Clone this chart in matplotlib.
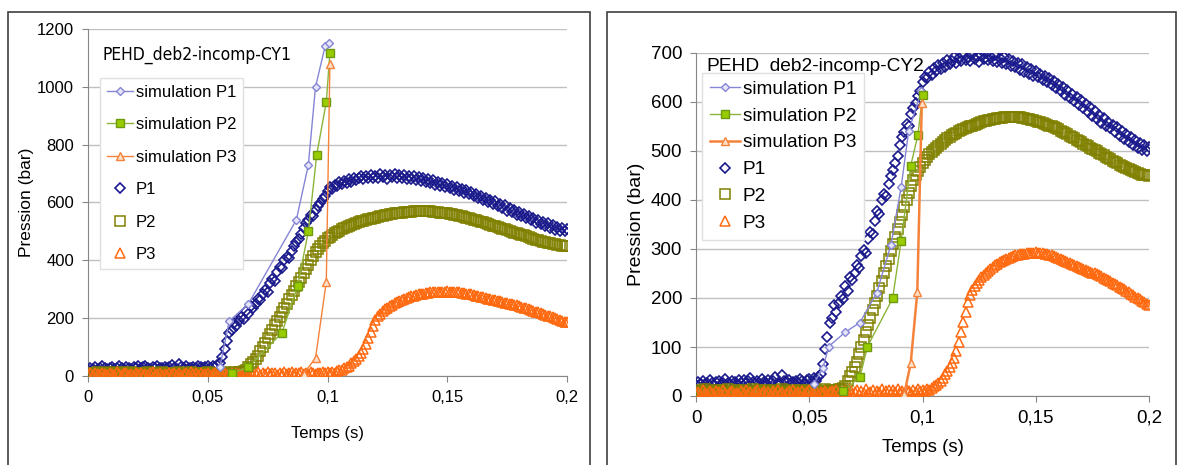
"""
Pressure vs time: simulation against measurements, PEHD deb2 incomp, cycles 1 and 2.
"""

import matplotlib
matplotlib.use("Agg")
import matplotlib.pyplot as plt
from matplotlib import font_manager
from matplotlib.patches import Rectangle
import numpy as np

plt.rcParams['font.family'] = ['Liberation Sans', 'DejaVu Sans']

# Measured pressures (bar), one sample every millisecond from 0 to 0.2 s
time_s = np.arange(201) / 1000.0

p1_exp = [
    22, 28, 25, 30, 24, 27, 33, 26, 23, 29,
    31, 25, 27, 35, 26, 24, 30, 28, 25, 32,
    27, 33, 26, 30, 36, 28, 25, 31, 27, 34,
    29, 26, 32, 28, 30, 38, 27, 25, 42, 30,
    28, 33, 26, 29, 31, 27, 35, 30, 26, 32,
    34, 28, 36, 30, 38, 45, 65, 95, 120, 150,
    160, 185, 172, 190, 205, 198, 225, 215, 242, 236,
    250, 268, 262, 285, 298, 292, 320, 335, 330, 358,
    378, 372, 400, 412, 408, 432, 448, 462, 475, 490,
    512, 528, 538, 556, 552, 575, 588, 598, 612, 622,
    640, 652, 648, 662, 656, 670, 664, 676, 668, 680,
    672, 686, 678, 684, 692, 680, 690, 684, 696, 686,
    692, 684, 698, 688, 694, 682, 696, 688, 700, 686,
    694, 684, 696, 682, 690, 680, 692, 678, 688, 674,
    684, 672, 680, 666, 678, 662, 672, 658, 668, 654,
    664, 650, 658, 644, 654, 640, 648, 634, 642, 628,
    636, 622, 630, 614, 624, 608, 616, 602, 610, 594,
    604, 588, 596, 580, 590, 572, 582, 566, 574, 558,
    568, 552, 560, 546, 554, 538, 548, 530, 540, 524,
    534, 518, 528, 512, 522, 506, 516, 502, 512, 500,
    508,
]

p2_exp = [
    8, 12, 6, 10, 14, 7, 11, 9, 5, 13,
    10, 6, 12, 8, 14, 9, 7, 11, 13, 6,
    10, 12, 8, 5, 11, 14, 9, 7, 12, 10,
    6, 13, 9, 11, 8, 12, 7, 10, 14, 8,
    11, 6, 9, 13, 10, 7, 12, 8, 11, 9,
    13, 7, 10, 12, 8, 11, 9, 14, 10, 12,
    11, 13, 12, 15, 14, 17, 20, 30, 40, 50,
    60, 70, 85, 100, 115, 130, 145, 160, 175, 190,
    205, 220, 235, 250, 265, 280, 295, 310, 325, 340,
    355, 370, 385, 400, 415, 428, 440, 450, 460, 468,
    476, 482, 488, 493, 498, 502, 507, 511, 515, 519,
    522, 526, 529, 532, 535, 537, 540, 542, 544, 546,
    548, 550, 552, 554, 556, 558, 559, 561, 562, 563,
    564, 565, 566, 567, 568, 568, 569, 570, 570, 570,
    570, 570, 569, 569, 568, 567, 566, 565, 564, 563,
    562, 560, 559, 557, 556, 554, 552, 550, 548, 546,
    544, 541, 539, 536, 534, 531, 528, 526, 523, 520,
    518, 515, 512, 510, 507, 504, 502, 499, 496, 494,
    491, 488, 486, 483, 480, 478, 475, 472, 470, 467,
    465, 463, 461, 459, 457, 455, 453, 452, 451, 450,
    449,
]

p3_exp = [
    5, 9, 3, 12, 7, 4, 10, 6, 2, 11,
    8, 4, 13, 6, 3, 9, 11, 5, 7, 2,
    10, 6, 12, 4, 8, 3, 9, 13, 5, 7,
    11, 4, 8, 2, 10, 6, 12, 5, 9, 3,
    7, 11, 4, 13, 6, 9, 3, 10, 5, 8,
    12, 4, 7, 10, 3, 9, 6, 11, 5, 8,
    10, 4, 12, 7, 3, 9, 11, 6, 14, 5,
    8, 13, 4, 10, 7, 15, 6, 9, 12, 5,
    11, 8, 14, 6, 10, 13, 7, 12, 9, 15,
    8, 11, 6, 13, 10, 7, 12, 9, 14, 11,
    13, 10, 15, 12, 16, 20, 22, 26, 30, 36,
    44, 52, 60, 68, 78, 92, 110, 130, 152, 172,
    192, 206, 216, 224, 230, 236, 242, 247, 252, 256,
    260, 264, 267, 270, 273, 276, 278, 280, 282, 284,
    285, 287, 288, 289, 290, 290, 291, 292, 292, 292,
    293, 292, 292, 291, 290, 289, 288, 287, 285, 284,
    282, 280, 278, 276, 274, 272, 270, 268, 266, 264,
    262, 260, 258, 256, 254, 252, 250, 248, 246, 244,
    241, 239, 236, 234, 231, 229, 226, 223, 221, 218,
    215, 212, 209, 206, 203, 200, 197, 194, 191, 188,
    186,
]

# Simulation, cycle 1
cy1_sim_p1_t = [0.055, 0.059, 0.067, 0.087, 0.092, 0.095, 0.099, 0.1005]
cy1_sim_p1 = [30, 190, 250, 540, 730, 1000, 1140, 1150]
cy1_sim_p2_t = [0.060, 0.067, 0.081, 0.0875, 0.092, 0.0955, 0.0995, 0.101]
cy1_sim_p2 = [10, 30, 150, 310, 500, 765, 948, 1118]
cy1_sim_p3_t = [0.090, 0.095, 0.0995, 0.101]
cy1_sim_p3 = [8, 62, 326, 1080]

# Simulation, cycle 2
cy2_sim_p1_t = [0.052, 0.056, 0.0586, 0.0658, 0.0724, 0.0798, 0.0861, 0.0906, 0.0939, 0.0995]
cy2_sim_p1 = [25, 57, 101, 130, 150, 211, 309, 427, 541, 622]
cy2_sim_p2_t = [0.065, 0.0724, 0.0757, 0.0868, 0.0906, 0.0948, 0.098, 0.1]
cy2_sim_p2 = [10, 39, 101, 199, 317, 470, 533, 614]
cy2_sim_p3_t = [0.092, 0.0948, 0.0977, 0.0997]
cy2_sim_p3 = [5, 67, 212, 598]

x_ticks = [0, 0.05, 0.1, 0.15, 0.2]
x_tick_labels = ['0', '0,05', '0,1', '0,15', '0,2']

COLORS = {
    'P1': '#1A1A8C',
    'P2': '#808000',
    'P3': '#FF6A10',
    'sim P1': '#8585D6',
    'sim P2': '#8DB43A',
    'sim P3': '#F5823A',
}

# The first title is set in a narrow face; use one if the system has it
_fonts = font_manager.fontManager.ttflist
if any(f.name == 'Liberation Sans Narrow' for f in _fonts):
    narrow_title = dict(family='Liberation Sans Narrow', fontsize=15)
elif any(f.name == 'DejaVu Sans' and 'condensed' in str(f.stretch) for f in _fonts):
    narrow_title = dict(family='DejaVu Sans', fontstretch='condensed', fontsize=12.5)
else:
    narrow_title = dict(family='Liberation Sans', fontsize=12.8)


def draw_panel(ax, sims, title, y_max, y_step, title_pos, title_font, font_size,
               label_pads, legend_anchor, legend_size, legend_spacing, p3_lw):
    (t1, s1), (t2, s2), (t3, s3) = sims

    # Simulation curves
    ax.plot(t1, s1, color=COLORS['sim P1'], linewidth=1.0, marker='D',
            markersize=4, markerfacecolor='#E6E6F8', markeredgecolor=COLORS['sim P1'],
            label='simulation P1', zorder=4)
    ax.plot(t2, s2, color=COLORS['sim P2'], linewidth=1.0, marker='s',
            markersize=6, markerfacecolor='#99CC00', markeredgecolor='#6E9A10',
            label='simulation P2', zorder=4)
    ax.plot(t3, s3, color=COLORS['sim P3'], linewidth=p3_lw, marker='^',
            markersize=6, markerfacecolor='#FCE0C8', markeredgecolor=COLORS['sim P3'],
            label='simulation P3', zorder=4)

    # Measurements
    ax.plot(time_s, p1_exp, linestyle='none', marker='D', markersize=5.2,
            markerfacecolor='none', markeredgecolor=COLORS['P1'], markeredgewidth=1.2,
            label='P1', zorder=3)
    ax.plot(time_s, p2_exp, linestyle='none', marker='s', markersize=6.5,
            markerfacecolor='none', markeredgecolor=COLORS['P2'], markeredgewidth=1.1,
            label='P2', zorder=3)
    ax.plot(time_s, p3_exp, linestyle='none', marker='^', markersize=6.5,
            markerfacecolor='none', markeredgecolor=COLORS['P3'], markeredgewidth=1.1,
            label='P3', zorder=3)

    ax.set_xlim(0, 0.2)
    ax.set_ylim(0, y_max)
    ax.set_xticks(x_ticks)
    ax.set_xticklabels(x_tick_labels)
    ax.set_yticks(np.arange(0, y_max + 1, y_step))
    ax.tick_params(labelsize=font_size, direction='out', length=4, color='#868686', pad=6)
    ax.grid(True, axis='y', color='#C0C0C0', linewidth=1.0)
    ax.set_axisbelow(True)
    for side in ['top', 'right']:
        ax.spines[side].set_visible(False)
    for side in ['left', 'bottom']:
        ax.spines[side].set_color('#868686')

    ax.set_xlabel('Temps (s)', fontsize=font_size, labelpad=label_pads[0])
    ax.set_ylabel('Pression (bar)', fontsize=font_size + 0.5, labelpad=label_pads[1])

    ax.text(title_pos[0], title_pos[1], title, transform=ax.transAxes,
            va='center', ha='left', **title_font)

    leg = ax.legend(loc='upper left', bbox_to_anchor=legend_anchor, fontsize=legend_size,
                    labelspacing=legend_spacing, handlelength=1.6, handletextpad=0.15,
                    borderpad=0.4, borderaxespad=0, fancybox=False, framealpha=1,
                    edgecolor='#E0E0E0')
    leg.set_zorder(6)


fig = plt.figure(figsize=(11.78, 4.65), dpi=100)

# Panel frames
fig.patches.append(Rectangle((8 / 1178, -0.05), 582 / 1178, 1 - 12 / 465 + 0.05,
                             transform=fig.transFigure, fill=False,
                             edgecolor='#404040', linewidth=1.2))
fig.patches.append(Rectangle((607 / 1178, -0.05), 569 / 1178, 1 - 12 / 465 + 0.05,
                             transform=fig.transFigure, fill=False,
                             edgecolor='#404040', linewidth=1.2))

ax1 = fig.add_axes([88 / 1178, 1 - 376 / 465, 479 / 1178, 347 / 465])
ax2 = fig.add_axes([696 / 1178, 1 - 396 / 465, 453 / 1178, 343 / 465])

draw_panel(
    ax1,
    [(cy1_sim_p1_t, cy1_sim_p1), (cy1_sim_p2_t, cy1_sim_p2), (cy1_sim_p3_t, cy1_sim_p3)],
    'PEHD_deb2-incomp-CY1', 1200, 200,
    (0.031, 0.925), narrow_title, 12, (15, 2),
    (0.025, 0.859), 12, 1.05, 1.0,
)
draw_panel(
    ax2,
    [(cy2_sim_p1_t, cy2_sim_p1), (cy2_sim_p2_t, cy2_sim_p2), (cy2_sim_p3_t, cy2_sim_p3)],
    'PEHD_deb2-incomp-CY2', 700, 100,
    (0.024, 0.962), dict(fontsize=13.8), 13.5, (9, 4),
    (0.013, 0.942), 13.7, 0.5, 1.8,
)

fig.savefig('out.png', dpi=100)
plt.close(fig)
